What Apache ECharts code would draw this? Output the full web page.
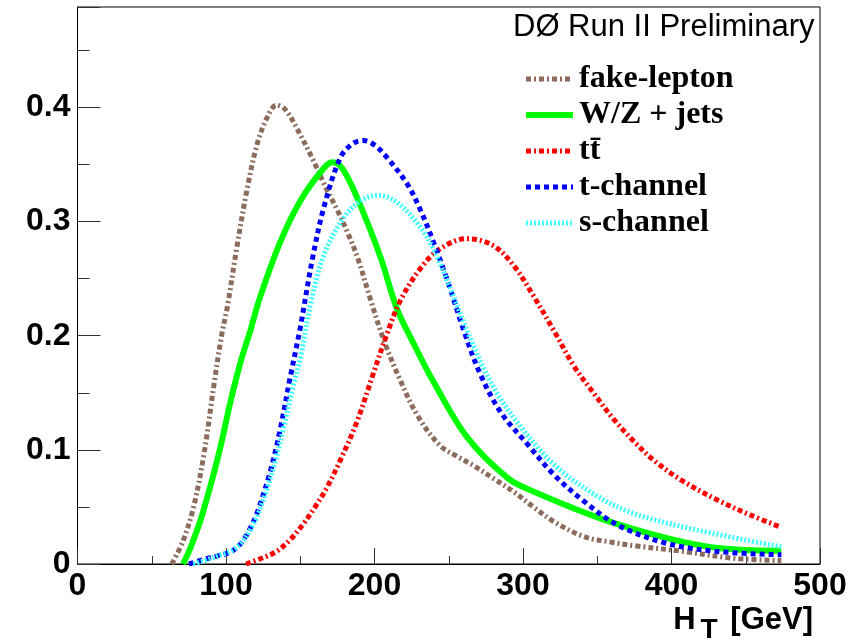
<!DOCTYPE html>
<html>
<head>
<meta charset="utf-8">
<script src="https://cdn.jsdelivr.net/npm/echarts@6/dist/echarts.min.js"></script>
<style>
  html, body { margin: 0; padding: 0; background: #fff; }
  #chart { width: 851px; height: 644px; }
</style>
</head>
<body>
<div id="chart"></div>
<script>
// H_T distributions, normalised to unit area, [GeV, fraction]
const fakeLepton = [
  [63.5, 0], [71, 0.02], [78, 0.049], [85, 0.095], [92, 0.158], [97, 0.2],
  [101, 0.226], [107, 0.275], [114, 0.327], [121, 0.368], [128, 0.392],
  [134, 0.402], [140, 0.398], [148, 0.381], [159, 0.353], [166, 0.333],
  [175, 0.31], [182, 0.29], [189, 0.267], [197, 0.233], [206, 0.197],
  [217, 0.162], [229, 0.13], [244, 0.104], [256, 0.094], [267, 0.086],
  [280, 0.075], [294, 0.063], [307, 0.05], [321, 0.037], [341, 0.024],
  [360, 0.019], [375, 0.016], [408, 0.011], [442, 0.005], [474, 0.003]
];
const wzJets = [
  [71, 0], [76, 0.014], [82.5, 0.037], [89, 0.066], [96, 0.101], [103, 0.142],
  [109.6, 0.176], [116.5, 0.205], [123, 0.234], [136.5, 0.282], [150, 0.318],
  [163.5, 0.343], [171.5, 0.352], [176, 0.35], [181, 0.341], [189, 0.319],
  [204, 0.269], [215, 0.224], [226, 0.194], [240, 0.159], [263, 0.11],
  [290, 0.075], [307, 0.0635], [352, 0.04], [397, 0.0226], [431, 0.014],
  [474, 0.0116]
];
const ttbar = [
  [113.5, 0], [124, 0.005], [134, 0.011], [143, 0.021], [152, 0.035],
  [160, 0.05], [168, 0.067], [177, 0.091], [188, 0.124], [199, 0.166],
  [208.5, 0.202], [217.5, 0.231], [231, 0.259], [244, 0.276], [262, 0.285],
  [280, 0.279], [294, 0.261], [307, 0.235], [321, 0.204], [334, 0.174],
  [348, 0.149], [361, 0.127], [375, 0.107], [388, 0.091], [406, 0.074],
  [431, 0.056], [453, 0.043], [474, 0.032]
];
const tChannel = [
  [75, 0], [85, 0.004], [94, 0.007], [100, 0.009], [105, 0.012], [110, 0.018],
  [115, 0.028], [121, 0.045], [130, 0.082], [136.5, 0.118], [143, 0.162],
  [150, 0.207], [158, 0.266], [166, 0.313], [177, 0.356], [185, 0.368],
  [192.5, 0.371], [200, 0.367], [208.5, 0.356], [222, 0.333], [231, 0.31],
  [240, 0.281], [250, 0.245], [260, 0.205], [271, 0.167], [285, 0.133],
  [303, 0.105], [321, 0.078], [341, 0.055], [364, 0.034], [397, 0.018],
  [431, 0.011], [474, 0.008]
];
const sChannel = [
  [78, 0], [88, 0.004], [96, 0.008], [103, 0.011], [110, 0.018], [116, 0.029],
  [122, 0.045], [131, 0.08], [138, 0.115], [145, 0.155], [150, 0.18],
  [157, 0.228], [165.7, 0.27], [179, 0.303], [190.5, 0.318], [202, 0.323],
  [215, 0.317], [231, 0.295], [240, 0.275], [249, 0.248], [265, 0.196],
  [280, 0.155], [298, 0.121], [321, 0.087], [348, 0.061], [375, 0.044],
  [420, 0.029], [474, 0.015]
];

const seriesNames = ['fake-lepton', 'W/Z + jets', 'tt\u0304', 't-channel', 's-channel'];
const xTicks = [0, 100, 200, 300, 400, 500];
const yTicks = [0, 0.1, 0.2, 0.3, 0.4];

const chart = echarts.init(document.getElementById('chart'), null, { renderer: 'canvas' });

const sans = 'Liberation Sans, Arial, sans-serif';
const labelFont = { fontFamily: sans, fontWeight: 'bold', fontSize: 32, color: '#000' };

function curve(name, data, color, width, dash) {
  return {
    name: name,
    type: 'line',
    data: data,
    smooth: 0.35,
    showSymbol: false,
    symbol: 'none',
    lineStyle: { color: color, width: width, type: dash, cap: 'butt' },
    itemStyle: { color: color },
    emphasis: { disabled: true },
    animation: false
  };
}

chart.setOption({
  backgroundColor: '#fff',
  animation: false,
  title: {
    text: 'D\u00D8 Run II Preliminary',
    left: 508, top: 7,
    textStyle: { fontFamily: sans, fontWeight: 'normal', fontSize: 31, color: '#000' }
  },
  legend: {
    orient: 'vertical',
    left: 523, top: 63, padding: 0,
    itemWidth: 47, itemHeight: 14, itemGap: 4,
    data: seriesNames,
    selectedMode: false,
    itemStyle: { opacity: 0 },
    lineStyle: { width: 'inherit', type: 'inherit' },
    textStyle: { fontFamily: 'Liberation Serif, Times New Roman, serif', fontWeight: 'bold', fontSize: 32, color: '#000', padding: [0, 0, 0, 1] }
  },
  grid: { left: 77.5, right: 31, top: 7, bottom: 78, show: true, borderColor: '#000', borderWidth: 1, backgroundColor: 'transparent' },
  xAxis: {
    type: 'value', min: xTicks[0], max: xTicks[xTicks.length - 1], interval: 100,
    axisLine: { lineStyle: { color: '#000', width: 1 } },
    axisTick: { inside: true, length: 16, lineStyle: { color: '#333', width: 1 } },
    minorTick: { show: true, splitNumber: 2, length: 8, lineStyle: { color: '#333', width: 1 } },
    splitLine: { show: false },
    axisLabel: Object.assign({ margin: 6, formatter: v => String(v) }, labelFont),
    name: '{h|H}{s|T}{h| [GeV]}',
    nameLocation: 'end',
    nameGap: 0,
    nameTextStyle: {
      align: 'right', verticalAlign: 'top', padding: [32, 7, 0, 0],
      rich: {
        h: { fontFamily: sans, fontWeight: 'bold', fontSize: 31, color: '#000' },
        s: { fontFamily: sans, fontWeight: 'bold', fontSize: 28, color: '#000', padding: [20, 4, 0, 5] }
      }
    }
  },
  yAxis: {
    type: 'value', min: yTicks[0], max: 0.488, interval: 0.1,
    axisLine: { lineStyle: { color: '#000', width: 1 } },
    axisTick: { inside: true, length: 23, lineStyle: { color: '#333', width: 1 } },
    minorTick: { show: true, splitNumber: 2, length: 12, lineStyle: { color: '#333', width: 1 } },
    splitLine: { show: false },
    axisLabel: Object.assign({
      margin: 7,
      showMaxLabel: false,
      formatter: v => (yTicks.some(t => Math.abs(t - v) < 1e-9) ? (v === 0 ? '0' : v.toFixed(1)) : '')
    }, labelFont)
  },
  series: [
    curve(seriesNames[0], fakeLepton, '#8a6b5c', 5, [5, 3, 2, 3]),
    curve(seriesNames[1], wzJets, '#00ff00', 6, 'solid'),
    curve(seriesNames[2], ttbar, '#ff0000', 5, [5, 3, 2, 3]),
    curve(seriesNames[3], tChannel, '#0000ff', 5, [5, 4]),
    curve(seriesNames[4], sChannel, '#40ffff', 5, [2, 2])
  ]
});
</script>
</body>
</html>
